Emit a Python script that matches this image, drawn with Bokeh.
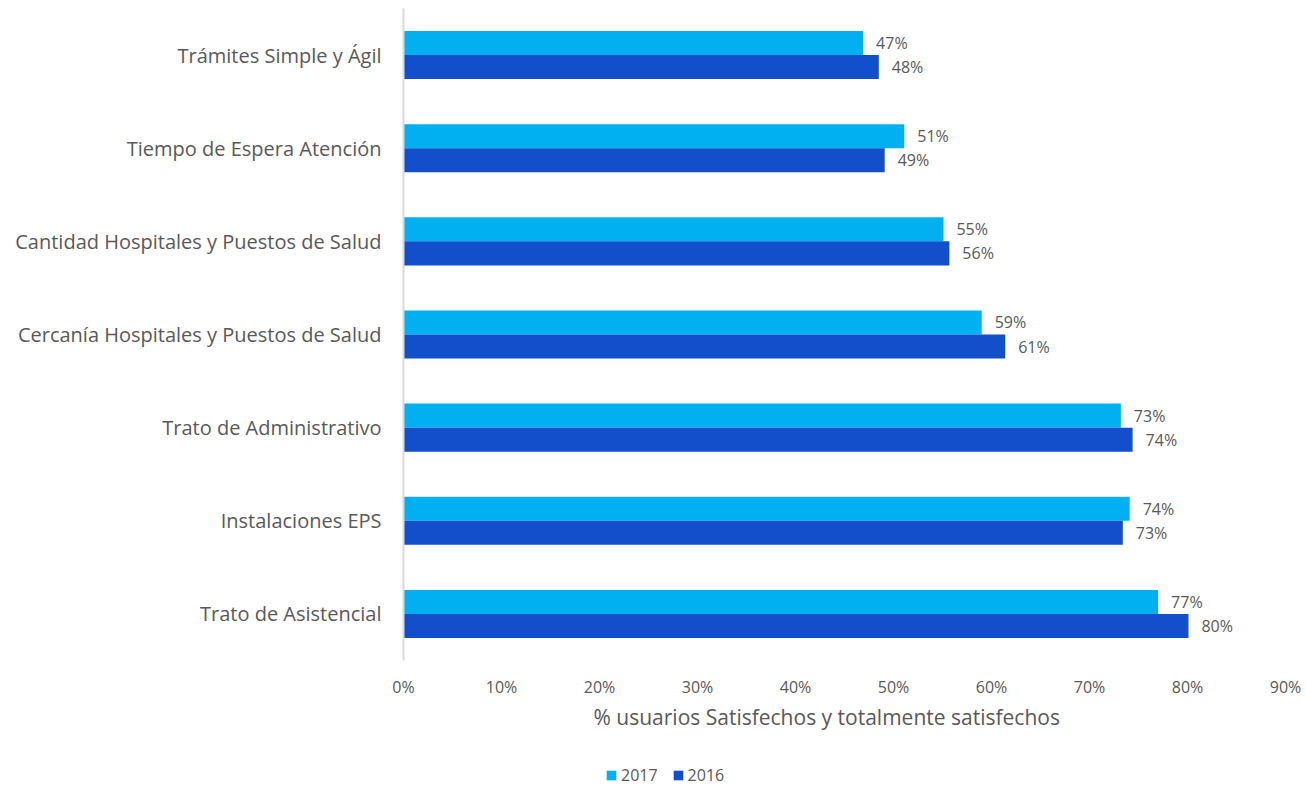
from bokeh.plotting import figure
from bokeh.layouts import column
from bokeh.models import (ColumnDataSource, FactorRange, LabelSet, Legend, LegendItem,
                          NumeralTickFormatter, FixedTicker, Title)
from bokeh.core.properties import value
from bokeh.transform import dodge
from bokeh.embed import file_html
from bokeh.resources import INLINE

categories = ["Trámites Simple y Ágil", "Tiempo de Espera Atención",
              "Cantidad Hospitales y Puestos de Salud", "Cercanía Hospitales y Puestos de Salud",
              "Trato de Administrativo", "Instalaciones EPS", "Trato de Asistencial"]
values_2017 = [0.469, 0.511, 0.551, 0.590, 0.732, 0.741, 0.770]
values_2016 = [0.485, 0.491, 0.557, 0.614, 0.744, 0.734, 0.801]
x_ticks = [0.0, 0.1, 0.2, 0.3, 0.4, 0.5, 0.6, 0.7, 0.8, 0.9]
series = ["2017", "2016"]

FONT = "Open Sans"
GRAY = "#595959"
C17 = "#00B0F0"
C16 = "#134FCB"

src = ColumnDataSource(dict(
    cat=categories,
    v17=values_2017,
    v16=values_2016,
    l17=[f"{round(v*100)}%" for v in values_2017],
    l16=[f"{round(v*100)}%" for v in values_2016],
))

p = figure(width=1306, height=750, output_backend="svg", toolbar_location=None,
           y_range=FactorRange(factors=list(reversed(categories)), range_padding=0),
           x_range=(0, 0.9),
           min_border_left=403, min_border_right=21, min_border_top=8, min_border_bottom=90)
p.outline_line_color = None
p.xgrid.visible = False
p.ygrid.visible = False

bh = 0.258
off = 0.129
p.hbar(y=dodge("cat", off, range=p.y_range), right="v17", left=0, height=bh,
       source=src, fill_color=C17, line_color=None)
p.hbar(y=dodge("cat", -off, range=p.y_range), right="v16", left=0, height=bh,
       source=src, fill_color=C16, line_color=None)

for col, lab, o in (("v17", "l17", off), ("v16", "l16", -off)):
    ls = LabelSet(x=col, y=dodge("cat", o, range=p.y_range), text=lab, source=src,
                  x_offset=13, text_baseline="middle", text_font=value(FONT),
                  text_font_size="16px", text_color=GRAY)
    p.add_layout(ls)

p.xaxis.ticker = FixedTicker(ticks=x_ticks)
p.xaxis.formatter = NumeralTickFormatter(format="0%")
p.xaxis.axis_line_color = None
p.xaxis.major_tick_line_color = None
p.xaxis.minor_tick_line_color = None
p.xaxis.major_label_text_font = FONT
p.xaxis.major_label_text_font_size = "16px"
p.xaxis.major_label_text_color = GRAY
p.xaxis.major_label_standoff = 9

xt = Title(text="% usuarios Satisfechos y totalmente satisfechos", align="left",
           offset=190, text_font=FONT, text_font_style="normal", text_font_size="21px",
           text_color=GRAY, standoff=0)
p.add_layout(xt, "below")

p.yaxis.axis_line_color = "#D9D9D9"
p.yaxis.axis_line_width = 2
p.yaxis.major_tick_line_color = None
p.yaxis.minor_tick_line_color = None
p.yaxis.major_label_text_font = FONT
p.yaxis.major_label_text_font_size = "20px"
p.yaxis.major_label_text_color = GRAY
p.yaxis.major_label_standoff = 16

# legend strip (its frame is aligned with the main frame by the column layout)
lf = figure(width=1306, height=37, output_backend="svg", toolbar_location=None,
            x_range=(0, 1), y_range=(0, 1), x_axis_type=None, y_axis_type=None,
            min_border_left=403, min_border_right=21, min_border_top=0, min_border_bottom=0)
lf.outline_line_color = None
lf.xgrid.visible = False
lf.ygrid.visible = False
nan = float("nan")
proxy = ColumnDataSource(dict(l=[nan], r=[nan], b=[nan], t=[nan]))
lr17 = lf.quad(left="l", right="r", bottom="b", top="t", source=proxy, fill_color=C17, line_color=None)
lr16 = lf.quad(left="l", right="r", bottom="b", top="t", source=proxy, fill_color=C16, line_color=None)
legend = Legend(items=[LegendItem(label=series[0], renderers=[lr17]),
                       LegendItem(label=series[1], renderers=[lr16])],
                orientation="horizontal", location=(202, 1),
                label_text_font=FONT, label_text_font_size="16px", label_text_color=GRAY,
                glyph_width=12, glyph_height=12, spacing=14, label_standoff=4,
                border_line_color=None, background_fill_alpha=0, margin=0, padding=0)
lf.add_layout(legend, "center")

open("out.html", "w").write(file_html(column(p, lf, spacing=0), INLINE))
